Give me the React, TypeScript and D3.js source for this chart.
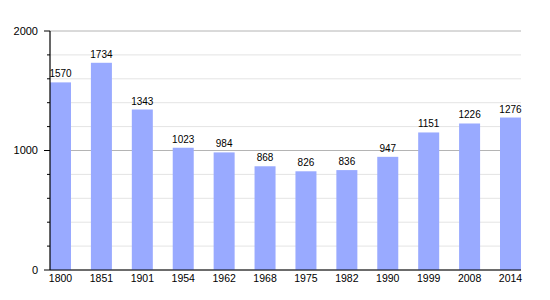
import React from "react";
import * as d3 from "d3";

const years = ["1800", "1851", "1901", "1954", "1962", "1968", "1975", "1982", "1990", "1999", "2008", "2014"];
const population = [1570, 1734, 1343, 1023, 984, 868, 826, 836, 947, 1151, 1226, 1276];
const majorTicks = [0, 1000, 2000];
const minorTicks = [200, 400, 600, 800, 1200, 1400, 1600, 1800];

const W = 550, H = 300;
const left = 50, right = 521, top = 31, bottom = 270;

export default function App() {
  const x = d3.scaleBand<string>().domain(years).range([left, right]).paddingInner(0.4866).paddingOuter(0);
  const y = d3.scaleLinear().domain([0, 2000]).range([bottom, top]);
  const font = "'Liberation Sans', Arial, sans-serif";
  return (
    <svg width={W} height={H} style={{ position: "absolute", left: 0, top: 0 }} fontFamily={font}>
      <rect width={W} height={H} fill="#fff" />
      {minorTicks.map((t) => (
        <g key={"mi" + t}>
          <line x1={left} x2={right} y1={y(t)} y2={y(t)} stroke="#e4e4e4" strokeWidth={1} />
          <line x1={left - 3} x2={left} y1={y(t)} y2={y(t)} stroke="#000" strokeWidth={1} />
        </g>
      ))}
      {majorTicks.map((t) => (
        <g key={"ma" + t}>
          <line x1={left} x2={right} y1={y(t)} y2={y(t)} stroke="#b4b4b4" strokeWidth={1} />
          <line x1={left - 6} x2={left} y1={y(t)} y2={y(t)} stroke="#000" strokeWidth={1} />
          <text x={38} y={y(t)} dy="0.35em" textAnchor="end" fontSize={11} fill="#000">{t}</text>
        </g>
      ))}
      {years.map((yr, i) => {
        const bx = x(yr)!;
        const bw = x.bandwidth();
        const v = population[i];
        return (
          <g key={yr}>
            <rect x={bx} y={y(v)} width={bw} height={bottom - y(v)} fill="#99aaff" />
            <text x={bx + bw / 2} y={y(v) - 5} textAnchor="middle" fontSize={10} fill="#000">{v}</text>
            <text x={bx + bw / 2} y={bottom + 12} textAnchor="middle" fontSize={10.5} fill="#000">{yr}</text>
          </g>
        );
      })}
      <line x1={left} x2={left} y1={top} y2={bottom} stroke="#000" strokeWidth={1.2} />
      <line x1={left} x2={right} y1={bottom} y2={bottom} stroke="#000" strokeWidth={1.2} />
    </svg>
  );
}
